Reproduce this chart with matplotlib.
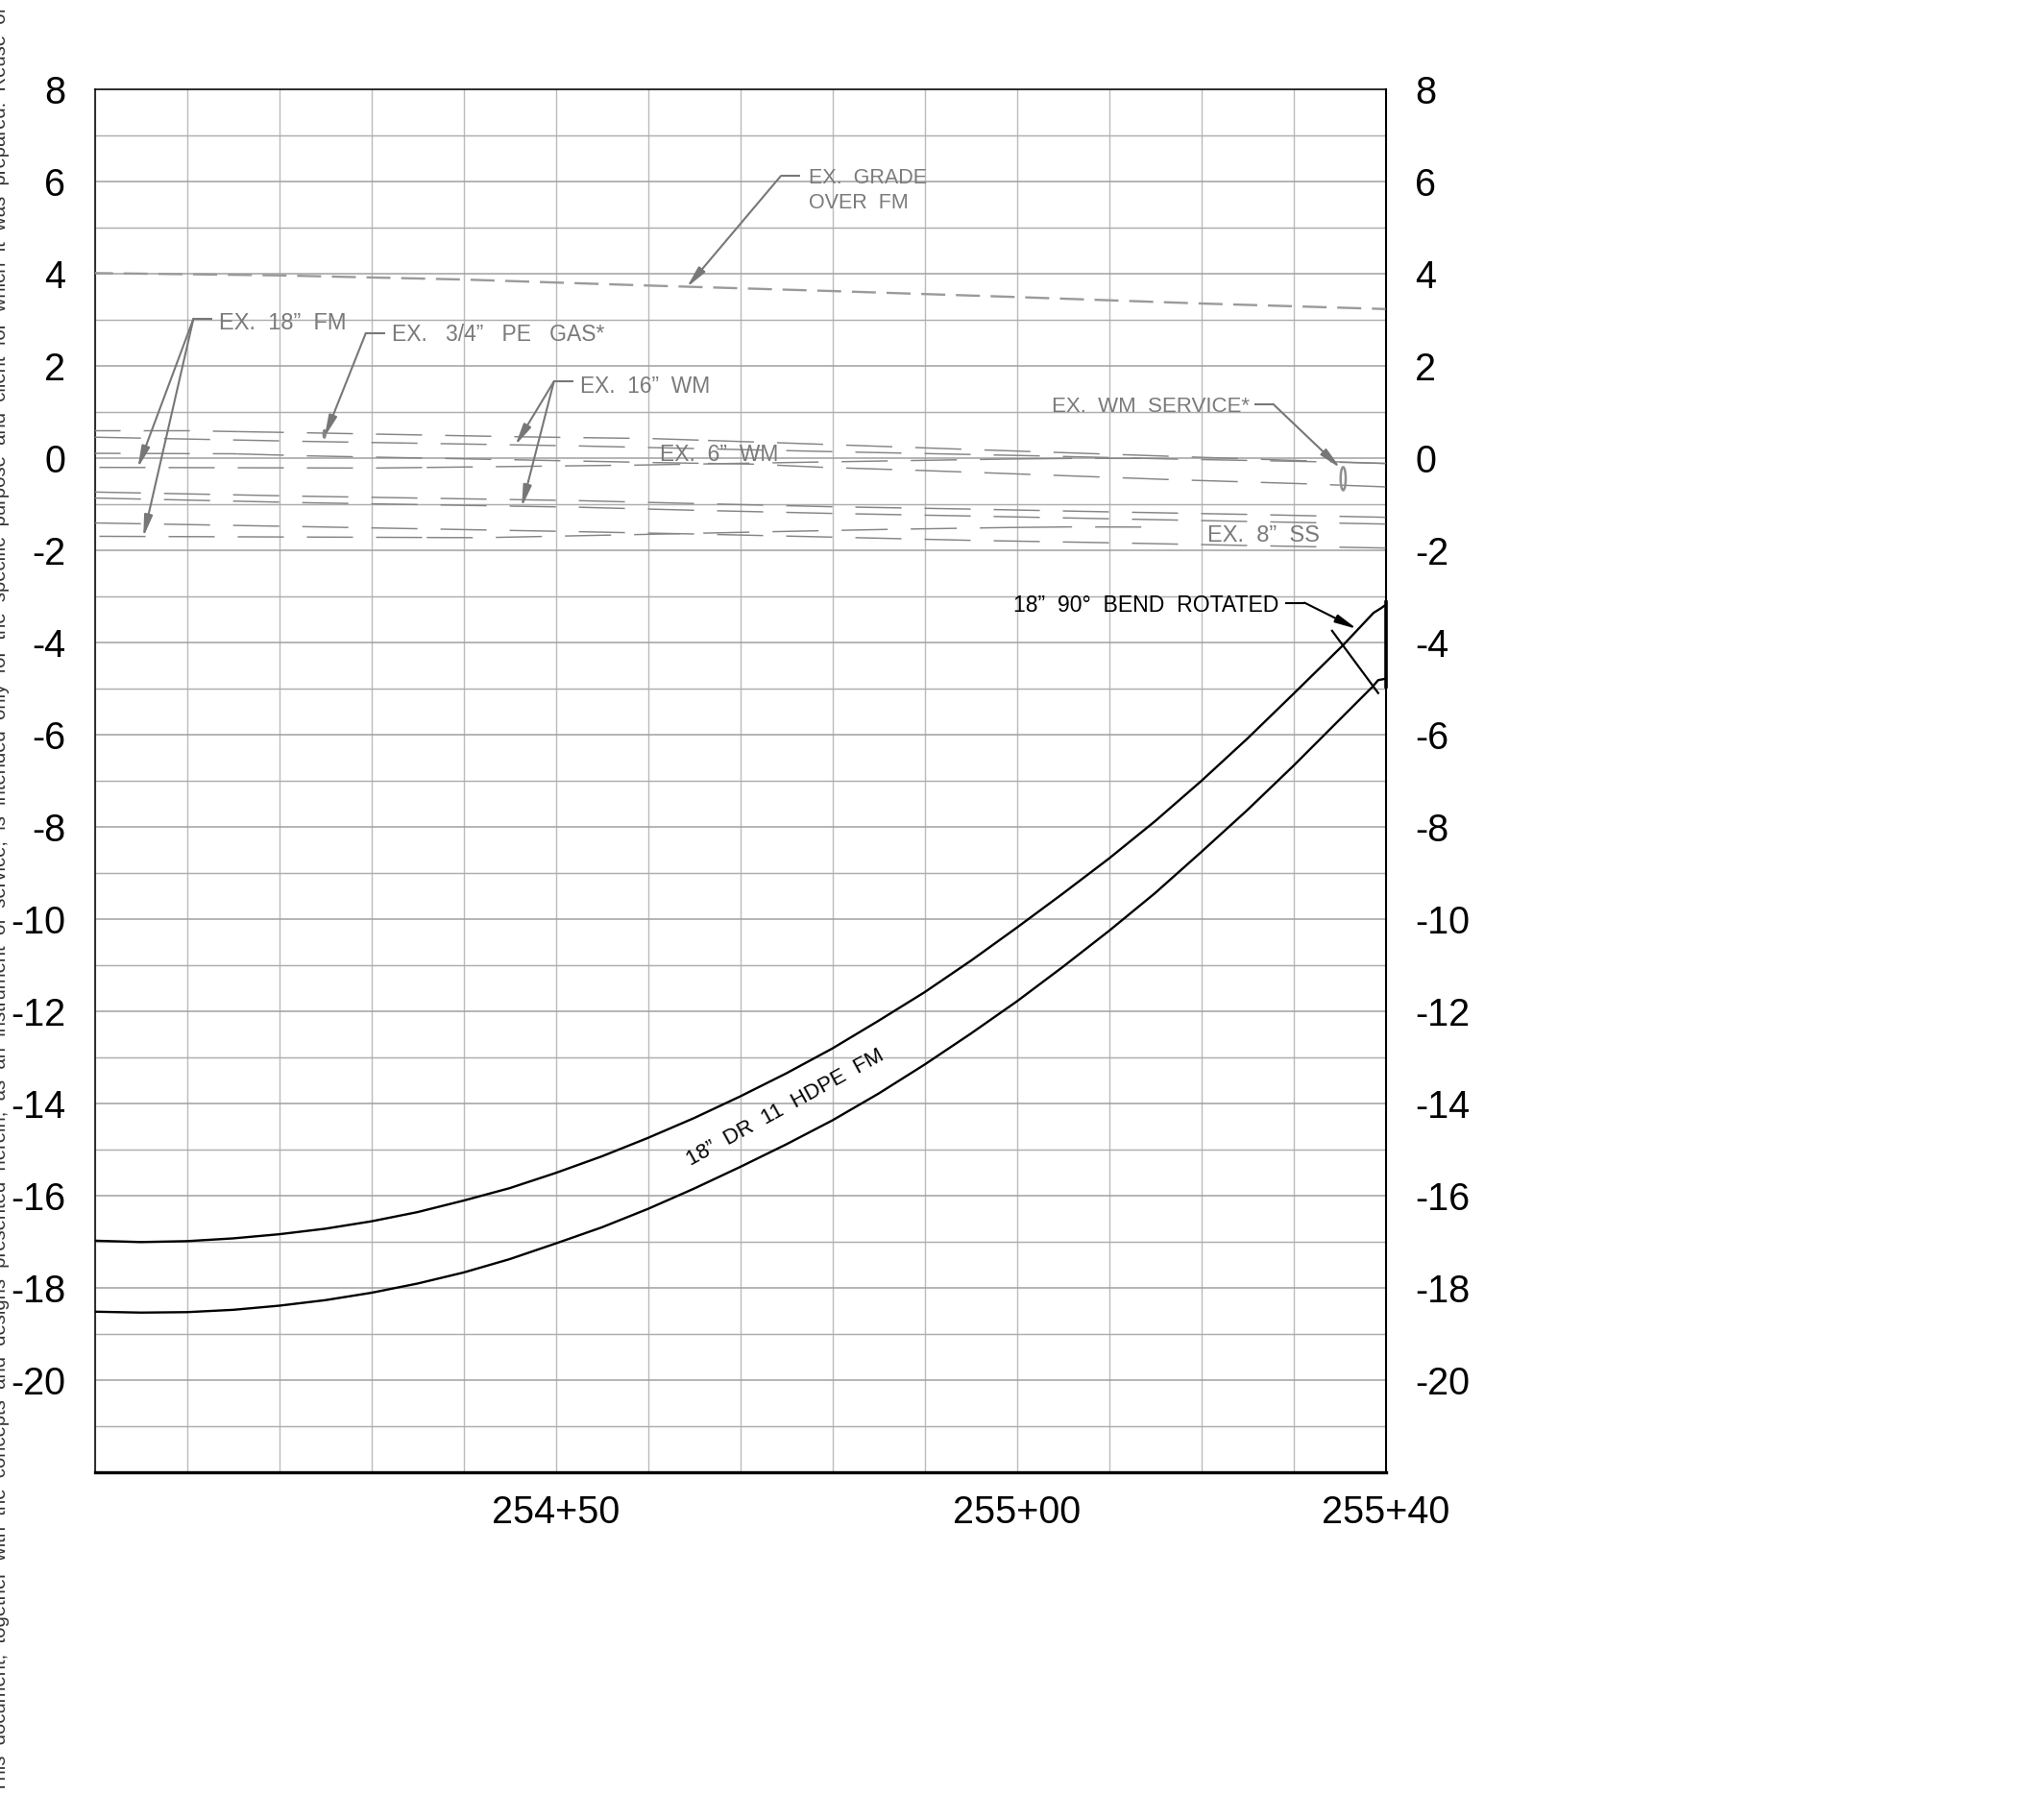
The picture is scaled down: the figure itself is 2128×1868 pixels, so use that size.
import numpy as np
import matplotlib
matplotlib.use("Agg")
import matplotlib.pyplot as plt
from matplotlib.patches import Ellipse

plt.rcParams['font.family'] = ['Liberation Sans', 'DejaVu Sans']
plt.rcParams['lines.scale_dashes'] = False

# stations are feet past 254+00, elevations in feet
y_major = [8, 6, 4, 2, 0, -2, -4, -6, -8, -10, -12, -14, -16, -18, -20]
x_major = [50, 100, 140]
x_labels = ["254+50", "255+00", "255+40"]

# proposed force main
fm_top_st = [0, 5, 10, 15, 20, 25, 30, 35, 40, 45, 50, 55, 60, 65, 70, 75, 80, 85, 90, 95, 100,
             105, 110, 115, 120, 125, 130, 135.4, 138.7, 139.5, 140]
fm_top_el = [-16.97, -17.0, -16.98, -16.92, -16.83, -16.71, -16.55, -16.35, -16.1, -15.83, -15.5, -15.14,
             -14.74, -14.31, -13.84, -13.34, -12.8, -12.2, -11.58, -10.9, -10.18,
             -9.44, -8.68, -7.87, -7.0, -6.08, -5.11, -4.05, -3.35, -3.25, -3.18]
fm_bot_st = [0, 5, 10, 15, 20, 25, 30, 35, 40, 45, 50, 55, 60, 65, 70, 75, 80, 85, 90, 95, 100,
             105, 110, 115, 120, 125, 130, 135, 138.6, 139.2, 140]
fm_bot_el = [-18.51, -18.53, -18.52, -18.47, -18.38, -18.26, -18.10, -17.9, -17.66, -17.37, -17.03, -16.68,
             -16.28, -15.84, -15.37, -14.88, -14.36, -13.78, -13.15, -12.48, -11.78,
             -11.03, -10.25, -9.43, -8.54, -7.63, -6.67, -5.67, -4.95, -4.81, -4.78]
bend_st = [134.2, 139.2]
bend_el = [-3.74, -5.09]
end_st = [140, 140]
end_el = [-3.11, -4.95]

# existing grade
grade_st = [0, 20, 40, 60, 80, 100, 120, 140]
grade_el = [4.02, 3.97, 3.88, 3.75, 3.63, 3.5, 3.36, 3.24]

# existing utilities
a_st = [0, 10, 23, 45.5, 60.4, 74, 94, 116, 140]
a_el = [0.60, 0.60, 0.555, 0.47, 0.43, 0.34, 0.20, 0.05, -0.11]
b_st = [0, 22.5, 52.5, 80, 102, 117, 132, 140]
b_el = [0.46, 0.37, 0.27, 0.146, 0.056, -0.014, -0.07, -0.11]
c_st = [0, 15, 23, 45.5, 60.4, 71.5, 79, 89, 101.4, 116.4, 131, 140]
c_el = [0.11, 0.10, 0.055, -0.03, -0.09, -0.125, -0.194, -0.257, -0.347, -0.458, -0.549, -0.618]
d_st = [0, 30, 58.6, 71, 86, 99, 106, 113.7]
d_el = [-0.195, -0.21, -0.146, -0.104, -0.055, -0.014, 0.0, 0.0]
e_st = [0, 22.5, 52.5, 65, 80, 95, 110, 125, 140]
e_el = [-0.73, -0.82, -0.917, -0.979, -1.049, -1.1, -1.16, -1.215, -1.278]
f_st = [0, 22.5, 52.5, 65, 80, 95, 110, 125, 140]
f_el = [-0.86, -0.96, -1.06, -1.125, -1.194, -1.25, -1.31, -1.368, -1.424]
g_st = [0, 22.5, 52.5, 65, 80, 95, 110, 125, 140]
g_el = [-1.40, -1.48, -1.59, -1.64, -1.708, -1.778, -1.83, -1.89, -1.944]
h_st = [0, 42, 58.6, 71, 86, 99, 106, 113.7]
h_el = [-1.69, -1.72, -1.653, -1.6, -1.54, -1.5, -1.486, -1.49]

NOTE = ("This  document,  together  with  the  concepts  and  designs  presented  herein,  as  an  "
        "instrument  of  service,  is  intended  only  for  the  specific  purpose  and  client  for  "
        "which  it  was  prepared.  Reuse  of  and")

FT = 6.912  # points per foot along the station axis
GRAY = '#858585'
LEAD = '#777777'

fig = plt.figure(figsize=(21.28, 18.68), dpi=100)
ax = fig.add_axes([98.7/2128, 1-1533.3/1868, 1343.8/2128, 1440/1868])
ax.set_xlim(0, 140)
ax.set_ylim(-22, 8)

ax.set_xticks(x_major)
ax.set_xticklabels(x_labels)
ax.set_xticks(np.arange(0, 141, 10), minor=True)
ax.set_yticks(y_major)
ax.set_yticklabels([str(v) for v in y_major])
ax.set_yticks(np.arange(-21, 8, 2), minor=True)
ax.tick_params(which='both', length=0)
ax.tick_params(axis='y', labelleft=True, labelright=True, labelsize=28.5, pad=22)
ax.tick_params(axis='x', labelsize=28.5, pad=16)
for t in ax.get_yticklabels():
    t.set_va('center_baseline')
ax.grid(axis='x', which='both', color='#bcbcbc', lw=1.0)
ax.grid(axis='y', which='major', color='#a0a0a0', lw=1.1)
ax.grid(axis='y', which='minor', color='#adadad', lw=1.05)
ax.set_axisbelow(True)
for side, w in [('left', 1.1), ('top', 1.1), ('right', 1.5), ('bottom', 2.4)]:
    ax.spines[side].set_linewidth(w)
    ax.spines[side].set_color('black')


def dashed_runs(st, el, breaks=(), phase=0.0):
    # the CAD linetype starts over at some vertices, so each run gets its own dash cycle
    st = np.array(st, dtype=float)
    el = np.array(el, dtype=float)
    edges = [st[0]] + list(breaks) + [st[-1]]
    for i in range(len(edges)-1):
        a, b = edges[i], edges[i+1]
        xx = np.concatenate([[a], st[(st > a) & (st < b)], [b]])
        yy = np.interp(xx, st, el)
        off = phase if i == 0 else 0
        ax.plot(xx, yy, color=GRAY, lw=1.05, ls=(off*FT, (5*FT, 2.5*FT)), zorder=3)


ax.plot(grade_st, grade_el, color='#9a9a9a', lw=1.7, ls=(4.3, (18, 8)), zorder=3)

dashed_runs(a_st, a_el, [15.5, 66.5, 135], 2.2)
dashed_runs(b_st, b_el)
dashed_runs(c_st, c_el, [15.5, 66.5, 135], 2.2)
dashed_runs(d_st, d_el, [36, 101], 7.0)
dashed_runs(e_st, e_el)
dashed_runs(f_st, f_el)
dashed_runs(g_st, g_el)
dashed_runs(h_st, h_el, [36, 101], 7.0)

ax.plot(fm_top_st, fm_top_el, color='black', lw=1.7, zorder=4)
ax.plot(fm_bot_st, fm_bot_el, color='black', lw=1.7, zorder=4)
ax.plot(bend_st, bend_el, color='black', lw=1.6, zorder=4)
ax.plot(end_st, end_el, color='black', lw=2.6, zorder=5, clip_on=False)

# small service / gas markers
ax.add_patch(Ellipse((135.4, -0.44), 0.55, 0.5, fill=False, ec='#909090', lw=1.8, zorder=4))
ax.add_patch(Ellipse((24.9, 0.53), 0.3, 0.18, color=GRAY, zorder=4))


def leader(x0, x1, y, tips, color=LEAD):
    ax.plot([x0, x1], [y, y], color=color, lw=1.5, zorder=5, solid_capstyle='butt')
    for tip in tips:
        ax.annotate('', xy=tip, xytext=(x1, y), zorder=5,
                    arrowprops=dict(arrowstyle='-|>,head_length=1.35,head_width=0.26', mutation_scale=10,
                                    color=color, lw=1.5, shrinkA=0, shrinkB=0))


leader(12.7, 10.7, 3.03, [(4.65, -0.21), (5.26, -1.71)])
leader(31.5, 29.4, 2.72, [(24.9, 0.46)])
leader(51.9, 49.8, 1.67, [(45.6, 0.28), (46.3, -1.06)])
leader(76.5, 74.4, 6.125, [(64.2, 3.71)])
leader(125.8, 127.8, 1.18, [(135.1, -0.21)])
leader(129.1, 131.2, -3.13, [(136.9, -3.70)], color='black')

labels = [
    (13.5, 2.98, 'EX.  18\u201d  FM', 17),
    (32.2, 2.74, 'EX.   3/4\u201d   PE   GAS*', 16.5),
    (52.6, 1.61, 'EX.  16\u201d  WM', 16.4),
    (61.3, 0.13, 'EX.  6\u201d  WM', 16.5),
    (77.4, 6.125, 'EX.  GRADE', 15.5),
    (77.4, 5.59, 'OVER  FM', 15.5),
    (103.8, 1.166, 'EX.  WM  SERVICE*', 16),
    (120.7, -1.62, 'EX.  8\u201d  SS', 17),
]
for x, y, s, fs in labels:
    ax.text(x, y, s, color='#7a7a7a', fontsize=fs, ha='left', va='center_baseline', zorder=6)
ax.text(99.6, -3.15, '18\u201d  90\u00b0  BEND  ROTATED', color='black', fontsize=16.6, ha='left',
        va='center_baseline', zorder=6)
ax.text(74.8, -14.05, '18\u201d  DR  11  HDPE  FM', color='black', fontsize=16, rotation=28.8,
        rotation_mode='anchor', ha='center', va='center_baseline', zorder=6)

fig.text(5.5/2128, 2/1868, NOTE, rotation=90, rotation_mode='anchor', ha='left', va='baseline',
         fontsize=14.6, color='#333333')

fig.savefig('out.png', dpi=100)
